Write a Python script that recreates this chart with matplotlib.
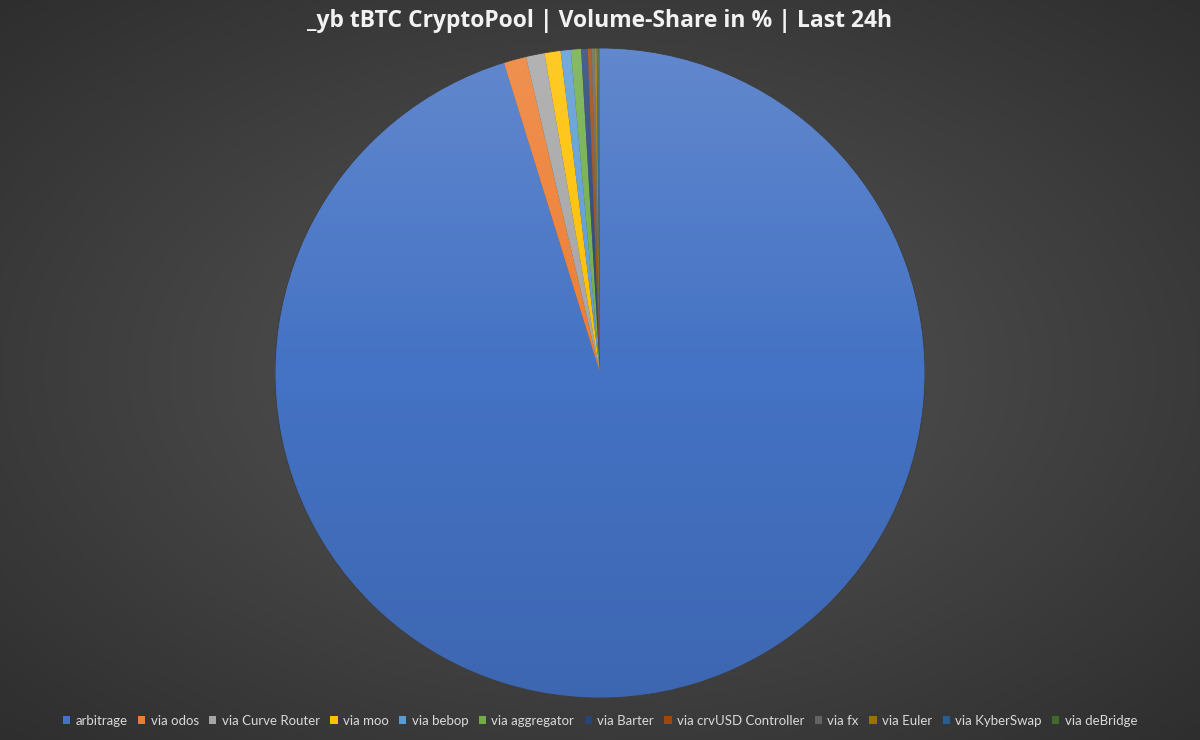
import numpy as np
import matplotlib.pyplot as plt
from matplotlib.patches import Circle

# ---------------------------------------------------------
# Data (volume share in %)
# ---------------------------------------------------------
labels = [
    "arbitrage", "via odos", "via Curve Router", "via moo", "via bebop",
    "via aggregator", "via Barter", "via crvUSD Controller", "via fx",
    "via Euler", "via KyberSwap", "via deBridge",
]
shares = [95.22, 1.12, 0.92, 0.80, 0.50, 0.51, 0.33, 0.19, 0.14, 0.11, 0.08, 0.08]
colors = [
    "#4472C4", "#ED7D31", "#A5A5A5", "#FFC000", "#5B9BD5", "#70AD47",
    "#264478", "#9E480E", "#636363", "#997300", "#255E91", "#43682B",
]

title = "_yb tBTC CryptoPool | Volume-Share in % | Last 24h"

plt.rcParams["font.family"] = ["Open Sans", "DejaVu Sans"]

W, H = 1200, 740
fig = plt.figure(figsize=(W / 100, H / 100), dpi=100)

# ---------------------------------------------------------
# Background: radial dark-grey gradient
# ---------------------------------------------------------
bg = fig.add_axes([0, 0, 1, 1])
yy, xx = np.mgrid[0:H, 0:W]
rr = np.sqrt(((xx - W / 2) / (W / 2)) ** 2 + ((yy - H / 2) / (H / 2)) ** 2) / np.sqrt(2)
shade = 0.34 - 0.16 * rr
bg.imshow(np.dstack([shade, shade, shade]), extent=[0, 1, 0, 1], aspect="auto")
bg.set_axis_off()

# ---------------------------------------------------------
# Pie
# ---------------------------------------------------------
cx, cy, r = 600, 373, 325
ax = fig.add_axes([(cx - r) / W, (H - cy - r) / H, 2 * r / W, 2 * r / H])
wedges, _ = ax.pie(
    shares,
    colors=colors,
    startangle=90,
    counterclock=False,
    radius=1,
    wedgeprops=dict(linewidth=0),
)
ax.add_patch(Circle((0, 0), 1, fill=False, edgecolor="#3c3c3c", linewidth=0.6, zorder=4))
ax.set_xlim(-1, 1)
ax.set_ylim(-1, 1)
ax.set_aspect("equal")
ax.set_axis_off()

# light-to-dark vertical sheen over the pie
g = np.linspace(0, 1, 256)[:, None]
sheen = np.zeros((256, 2, 4))
sheen[..., :3] = np.where(g < 0.5, 1.0, 0.0)[..., None]
sheen[..., 3] = np.abs(g - 0.5) * 2 * np.where(g < 0.5, 0.16, 0.10)
im = ax.imshow(sheen, extent=[-1, 1, -1, 1], origin="upper", aspect="auto", zorder=3)
im.set_clip_path(Circle((0, 0), 1, transform=ax.transData))

# ---------------------------------------------------------
# Title and legend
# ---------------------------------------------------------
fig.text(0.5, 1 - 21 / H, title, ha="center", va="center",
         fontsize=16.5, fontweight="bold", color="#f2f2f2")

fig.legend(
    wedges, labels,
    loc="center", bbox_to_anchor=(0.5, 1 - 721 / H),
    ncol=len(labels), frameon=False,
    prop=dict(family=["Lato", "DejaVu Sans"], size=9.5),
    labelcolor="#d9d9d9",
    handlelength=0.55, handleheight=0.55, handletextpad=0.4,
    columnspacing=0.8,
)

fig.savefig("out.png", dpi=100)
